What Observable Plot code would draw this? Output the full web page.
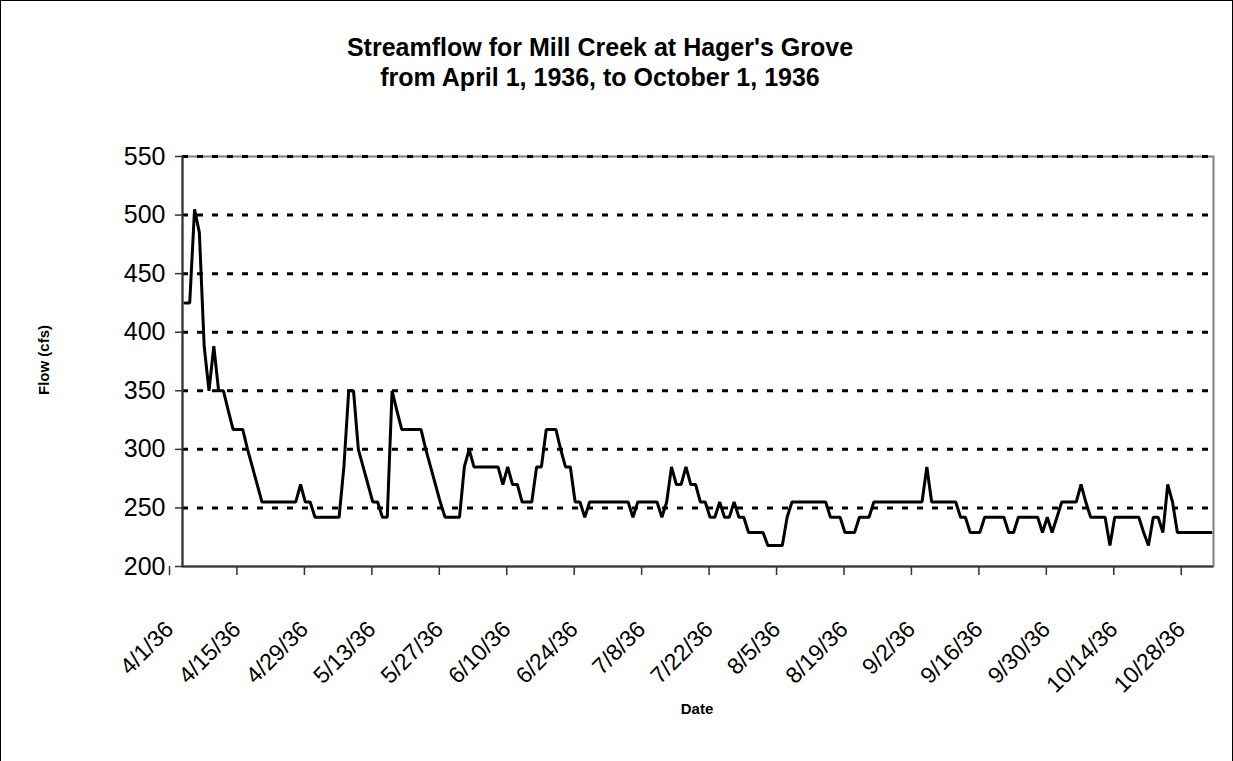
<!DOCTYPE html>
<html>
<head>
<meta charset="utf-8">
<script src="https://cdn.jsdelivr.net/npm/d3@7"></script>
<script src="https://cdn.jsdelivr.net/npm/@observablehq/plot@0.6"></script>
<style>
  html, body { margin: 0; padding: 0; background: #fff; }
  #chart { position: relative; width: 1233px; height: 761px; overflow: hidden;
           font-family: Arial, "Liberation Sans", sans-serif; color: #000; }
  #border { position: absolute; left: 0; top: 0; width: 1231px; height: 800px; border: 1px solid #000; }
  .title { position: absolute; left: 0; width: 1200px; text-align: center;
           font-weight: bold; font-size: 25px; line-height: 30px; }
  .axis-title { position: absolute; font-weight: bold; font-size: 15px; white-space: nowrap; }
  #plot { position: absolute; left: 0; top: 0; }
</style>
</head>
<body>
<div id="chart">
  <div id="border"></div>
  <div class="title" style="top:32px">Streamflow for Mill Creek at Hager's Grove</div>
  <div class="title" style="top:62px">from April 1, 1936, to October 1, 1936</div>
  <div id="plot"></div>
  <div class="axis-title" style="left:43px; top:360px; transform: translate(-50%,-50%) rotate(-90deg);">Flow (cfs)</div>
  <div class="axis-title" style="left:697px; top:708px; transform: translate(-50%,-50%);">Date</div>
</div>
<script>
// Daily mean flow (cfs), one value per day starting April 1, 1936
const startDate = "1936-04-01";
const flow = [
  425, 425, 505, 485, 388, 350, 388, 350, 350, 333,
  317, 317, 317, 300, 285, 270, 255, 255, 255, 255,
  255, 255, 255, 255, 270, 255, 255, 242, 242, 242,
  242, 242, 242, 285, 350, 350, 300, 285, 270, 255,
  255, 242, 242, 350, 333, 317, 317, 317, 317, 317,
  300, 285, 270, 255, 242, 242, 242, 242, 285, 300,
  285, 285, 285, 285, 285, 285, 270, 285, 270, 270,
  255, 255, 255, 285, 285, 317, 317, 317, 300, 285,
  285, 255, 255, 242, 255, 255, 255, 255, 255, 255,
  255, 255, 255, 242, 255, 255, 255, 255, 255, 242,
  255, 285, 270, 270, 285, 270, 270, 255, 255, 242,
  242, 255, 242, 242, 255, 242, 242, 229, 229, 229,
  229, 218, 218, 218, 218, 242, 255, 255, 255, 255,
  255, 255, 255, 255, 242, 242, 242, 229, 229, 229,
  242, 242, 242, 255, 255, 255, 255, 255, 255, 255,
  255, 255, 255, 255, 285, 255, 255, 255, 255, 255,
  255, 242, 242, 229, 229, 229, 242, 242, 242, 242,
  242, 229, 229, 242, 242, 242, 242, 242, 229, 242,
  229, 242, 255, 255, 255, 255, 270, 255, 242, 242,
  242, 242, 218, 242, 242, 242, 242, 242, 242, 229,
  218, 242, 242, 229, 270, 255, 229, 229, 229, 229,
  229, 229, 229, 229
];

// Date axis: first and last day of the axis, tick dates and their labels
const axisStart = "1936-04-01";
const axisEnd = "1936-11-01";
const tickDates = [
  "1936-04-01", "1936-04-15", "1936-04-29", "1936-05-13", "1936-05-27", "1936-06-10",
  "1936-06-24", "1936-07-08", "1936-07-22", "1936-08-05", "1936-08-19", "1936-09-02",
  "1936-09-16", "1936-09-30", "1936-10-14", "1936-10-28"
];
const tickLabels = [
  "4/1/36", "4/15/36", "4/29/36", "5/13/36", "5/27/36", "6/10/36",
  "6/24/36", "7/8/36", "7/22/36", "8/5/36", "8/19/36", "9/2/36",
  "9/16/36", "9/30/36", "10/14/36", "10/28/36"
];
const flowTicks = [200, 250, 300, 350, 400, 450, 500, 550];
const gridLevels = [250, 300, 350, 400, 450, 500, 550];

const DAY = 24 * 3600 * 1000;
const t0 = new Date(startDate + "T00:00:00Z").getTime();
// each daily value sits in the middle of its day
const series = flow.map((v, i) => ({date: new Date(t0 + i * DAY + DAY / 2), flow: v}));
const ticks = tickDates.map(s => new Date(s + "T00:00:00Z"));
const labelByTime = new Map(ticks.map((d, i) => [+d, tickLabels[i]]));
const x0 = new Date(axisStart + "T00:00:00Z");
const x1 = new Date(axisEnd + "T00:00:00Z");

const plot = Plot.plot({
  width: 1233,
  height: 761,
  marginLeft: 182,
  marginRight: 20,
  marginTop: 156,
  marginBottom: 195,
  style: {fontFamily: "Arial, 'Liberation Sans', sans-serif", color: "#000", background: "transparent"},
  x: {type: "utc", domain: [x0, x1]},
  y: {domain: [200, 550]},
  marks: [
    Plot.frame({stroke: "#808080", strokeWidth: 2}),
    Plot.ruleY(gridLevels, {stroke: "#000", strokeWidth: 3, strokeDasharray: "6,9"}),
    Plot.line(series, {x: "date", y: "flow", stroke: "#000", strokeWidth: 3, strokeLinejoin: "miter"}),
    Plot.axisY({ticks: flowTicks, tickSize: 7, tickPadding: 10, fontSize: 25, label: null,
                tickFormat: d => String(d), stroke: "#333", strokeWidth: 1.5}),
    Plot.axisX({ticks: ticks, tickFormat: d => labelByTime.get(+d), tickRotate: -45,
                tickSize: 9, tickPadding: 50, dx: -13, fontSize: 23, label: null,
                stroke: "#333", strokeWidth: 1.5}),
    Plot.ruleX([x0], {stroke: "#333", strokeWidth: 2}),
    Plot.ruleY([200], {stroke: "#333", strokeWidth: 2})
  ]
});
document.getElementById("plot").appendChild(plot);
</script>
</body>
</html>
